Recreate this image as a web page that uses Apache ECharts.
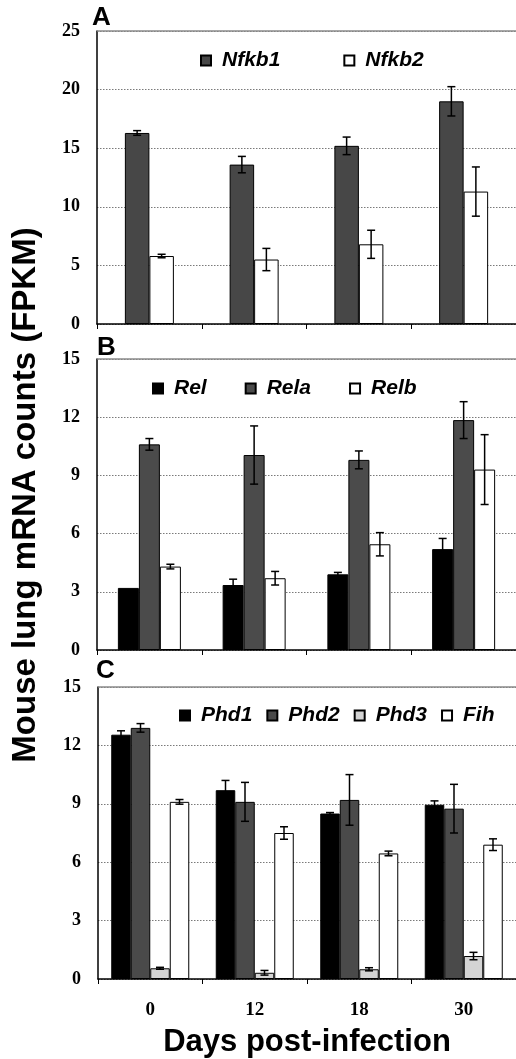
<!DOCTYPE html>
<html>
<head>
<meta charset="utf-8">
<script src="https://cdn.jsdelivr.net/npm/echarts@6/dist/echarts.min.js"></script>
<style>html,body{margin:0;padding:0;background:#fff}#c{width:516px;height:1059px}</style>
</head>
<body>
<div id="c"></div>
<script>
const days = ['0', '12', '18', '30'];
// Panel A
const nfkb1 = [16.3, 13.6, 15.2, 19.0];
const nfkb1Err = [0.2, 0.7, 0.75, 1.25];
const nfkb2 = [5.8, 5.5, 6.8, 11.3];
const nfkb2Err = [0.15, 0.95, 1.2, 2.1];
// Panel B
const rel = [3.2, 3.35, 3.9, 5.2];
const relErr = [0, 0.3, 0.1, 0.55];
const rela = [10.6, 10.05, 9.8, 11.85];
const relaErr = [0.3, 1.5, 0.46, 0.95];
const relb = [4.3, 3.7, 5.45, 9.3];
const relbErr = [0.12, 0.35, 0.6, 1.8];
// Panel C
const phd1 = [12.55, 9.7, 8.5, 8.95];
const phd1Err = [0.2, 0.5, 0.05, 0.2];
const phd2 = [12.9, 9.1, 9.2, 8.75];
const phd2Err = [0.22, 1.0, 1.3, 1.25];
const phd3 = [0.55, 0.32, 0.5, 1.18];
const phd3Err = [0.05, 0.12, 0.08, 0.19];
const fih = [9.1, 7.5, 6.45, 6.9];
const fihErr = [0.12, 0.32, 0.12, 0.3];

const yTicksA = {min: 0, max: 25, interval: 5};
const yTicksB = {min: 0, max: 15, interval: 3};
const yTicksC = {min: 0, max: 15, interval: 3};

const SANS = '"Liberation Sans", Arial, sans-serif';
const SERIF = '"Liberation Serif", "Times New Roman", serif';

const panels = [
  {grid: {left: 97, top: 31, right: -5, bottom: 735}, ticks: yTicksA, barW: 24.5, showLabels: false,
   series: [
     {name: 'Nfkb1', data: nfkb1, err: nfkb1Err, color: '#474747'},
     {name: 'Nfkb2', data: nfkb2, err: nfkb2Err, color: '#ffffff'}
   ], legend: {left: 200, top: 50, itemGap: 63}},
  {grid: {left: 97, top: 359, right: -5, bottom: 409}, ticks: yTicksB, barW: 21, showLabels: false,
   series: [
     {name: 'Rel', data: rel, err: relErr, color: '#000000'},
     {name: 'Rela', data: rela, err: relaErr, color: '#4b4b4b'},
     {name: 'Relb', data: relb, err: relbErr, color: '#ffffff'}
   ], legend: {left: 152, top: 378, itemGap: 38}},
  {grid: {left: 98, top: 687, right: -5, bottom: 80}, ticks: yTicksC, barW: 19.5, showLabels: true,
   series: [
     {name: 'Phd1', data: phd1, err: phd1Err, color: '#000000'},
     {name: 'Phd2', data: phd2, err: phd2Err, color: '#4a4a4a'},
     {name: 'Phd3', data: phd3, err: phd3Err, color: '#d4d4d4'},
     {name: 'Fih', data: fih, err: fihErr, color: '#ffffff'}
   ], legend: {left: 179, top: 705, itemGap: 14}}
];

const grids = [], xAxes = [], yAxes = [], series = [], legends = [];
panels.forEach((p, gi) => {
  grids.push(p.grid);
  xAxes.push({
    type: 'category', gridIndex: gi, data: days, boundaryGap: true,
    axisLine: {lineStyle: {color: '#000', width: 1.5}},
    axisTick: {show: true, length: 5, lineStyle: {color: '#000', width: 1}},
    axisLabel: {show: p.showLabels, margin: 22, color: '#000', fontFamily: SERIF, fontWeight: 'bold', fontSize: 19},
    name: p.showLabels ? 'Days post-infection' : '',
    nameLocation: 'middle', nameGap: 48,
    nameTextStyle: {color: '#000', fontFamily: SANS, fontWeight: 'bold', fontSize: 31}
  });
  yAxes.push({
    type: 'value', gridIndex: gi, min: p.ticks.min, max: p.ticks.max, interval: p.ticks.interval,
    axisLine: {show: true, lineStyle: {color: '#000', width: 1.5}},
    axisTick: {show: false},
    axisLabel: {margin: 17, color: '#000', fontFamily: SERIF, fontWeight: 'bold', fontSize: 18},
    splitLine: {show: true, lineStyle: {color: '#7a7a7a', type: [1.5, 1.5], width: 1}}
  });
  const n = p.series.length;
  p.series.forEach((s, si) => {
    const bar = {
      type: 'bar', name: s.name, xAxisIndex: gi, yAxisIndex: gi, data: s.data,
      barWidth: p.barW, barGap: '0%',
      itemStyle: {color: s.color, borderColor: '#000', borderWidth: 1},
      emphasis: {disabled: true}, z: 2
    };
    if (si === 0) {
      bar.markLine = {
        silent: true, symbol: 'none', label: {show: false},
        lineStyle: {color: '#8a8a8a', type: 'solid', width: 1.5},
        data: [{yAxis: p.ticks.max}]
      };
    }
    series.push(bar);
    const offset = (si - (n - 1) / 2) * p.barW;
    series.push({
      type: 'custom', name: s.name + ' err', xAxisIndex: gi, yAxisIndex: gi, z: 5, silent: true,
      data: s.data.map((v, i) => [i, v, s.err[i]]),
      renderItem: function (params, api) {
        const e = api.value(2);
        if (!e) return null;
        const c = api.coord([api.value(0), api.value(1)]);
        const hi = api.coord([api.value(0), api.value(1) + e]);
        const lo = api.coord([api.value(0), api.value(1) - e]);
        const x = c[0] + offset, hw = 4;
        const st = {stroke: '#000', lineWidth: 1.5};
        return {type: 'group', children: [
          {type: 'line', shape: {x1: x, y1: hi[1], x2: x, y2: lo[1]}, style: st},
          {type: 'line', shape: {x1: x - hw, y1: hi[1], x2: x + hw, y2: hi[1]}, style: st},
          {type: 'line', shape: {x1: x - hw, y1: lo[1], x2: x + hw, y2: lo[1]}, style: st}
        ]};
      }
    });
  });
  legends.push({
    data: p.series.map(s => s.name), left: p.legend.left, top: p.legend.top,
    itemGap: p.legend.itemGap, itemWidth: 10, itemHeight: 10, icon: 'rect', padding: 0,
    selectedMode: false,
    textStyle: {color: '#000', fontFamily: SANS, fontWeight: 'bold', fontStyle: 'italic', fontSize: 21, padding: [0, 0, 0, 6]}
  });
});

const chart = echarts.init(document.getElementById('c'), null, {renderer: 'canvas'});
chart.setOption({
  animation: false,
  backgroundColor: '#fff',
  title: [
    {text: 'A', left: 92, top: 5, padding: 0, textStyle: {fontFamily: SANS, fontWeight: 'bold', fontSize: 26, color: '#000'}},
    {text: 'B', left: 97, top: 335, padding: 0, textStyle: {fontFamily: SANS, fontWeight: 'bold', fontSize: 26, color: '#000'}},
    {text: 'C', left: 96, top: 658, padding: 0, textStyle: {fontFamily: SANS, fontWeight: 'bold', fontSize: 26, color: '#000'}}
  ],
  graphic: [{
    type: 'text', x: 26, y: 495, rotation: Math.PI / 2,
    style: {text: 'Mouse lung mRNA counts (FPKM)', font: 'bold 33px ' + SANS, fill: '#000', align: 'center', verticalAlign: 'middle'}
  }],
  grid: grids, xAxis: xAxes, yAxis: yAxes, legend: legends, series: series
});
</script>
</body>
</html>
